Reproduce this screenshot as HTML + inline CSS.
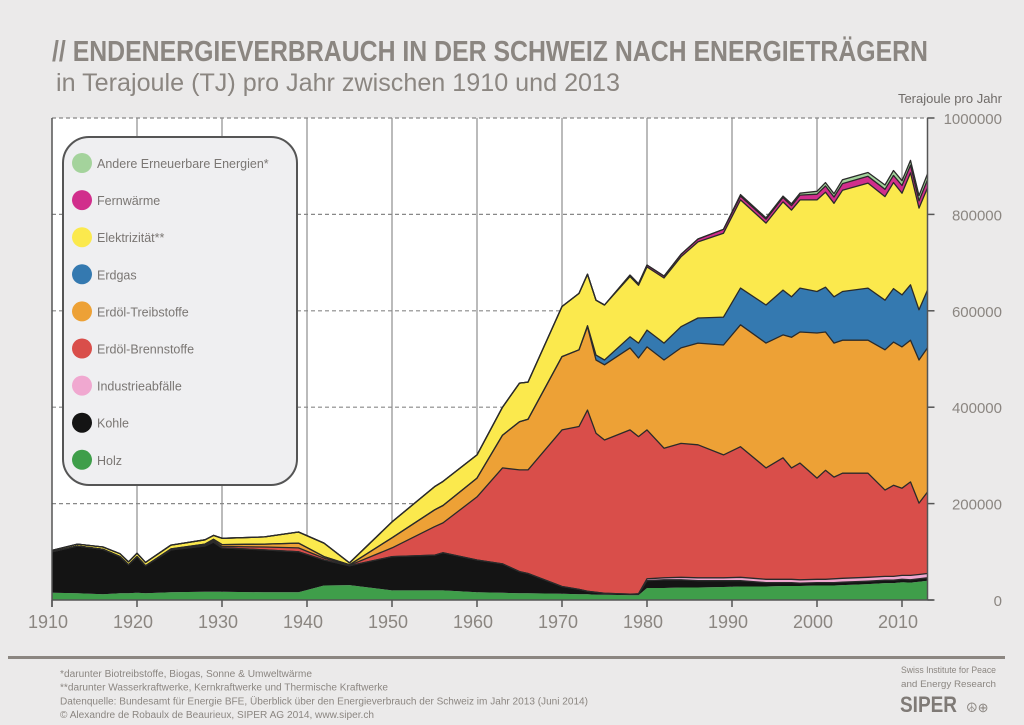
<!DOCTYPE html>
<html><head><meta charset="utf-8">
<style>
body{margin:0;background:#ebeaea;font-family:"Liberation Sans",sans-serif;}
#wrap{position:relative;width:1024px;height:725px;overflow:hidden;background:#ebeaea;}
svg{position:absolute;left:0;top:0;}
</style></head>
<body>
<div id="wrap">
<svg id="chart" width="1024" height="725"></svg>
</div>
<script>
const years=[1910,1913,1916,1918,1919,1920,1921,1924,1928,1929,1930,1935,1939,1942,1945,1950,1955,1956,1960,1963,1965,1966,1970,1972,1973,1974,1975,1978,1979,1980,1982,1984,1986,1989,1991,1994,1996,1997,1998,2000,2001,2002,2003,2006,2008,2009,2010,2011,2012,2013];
// values in 1000 TJ
const holz=[15,14,12,14,14,15,14,16,17,17,17,16,16,30,31,20,20,20,16,15,14,14,13,12,12,11,11,10,10,25,25,26,26,27,28,28,29,29,29,30,30,30,31,33,35,35,37,36,38,40];
const kohle=[85,98,93,76,59,75,57,88,95,103,91,88,84,53,40,70,73,78,67,60,45,41,15,10,6,5,3,2,2,15,17,16,14,13,12,8,7,7,6,6,6,6,6,6,6,6,6,6,6,6];
const industrie=[0,0,0,0,0,0,0,0,0,0,0,0,0,0,0,0,0,0,0,0,0,0,0,0,0,0,0,0,1,4,4,5,6,6,7,7,7,7,7,7,7,8,8,8,8,8,8,9,9,9];
const brenn=[0,0,0,0,0,0,0,1,2,3,3,6,8,4,1,18,59,62,131,199,211,215,325,338,376,330,318,341,326,309,269,278,276,255,271,231,252,231,242,210,226,211,218,216,179,189,181,194,148,169];
const treib=[0,0,0,0,0,0,0,1,2,3,4,6,10,3,1,21,35,36,39,68,100,105,152,159,173,152,156,170,163,172,183,198,211,228,253,259,255,271,272,301,287,278,276,276,291,297,293,294,297,299];
const gas=[0,0,0,0,0,0,0,0,0,0,0,0,0,0,0,0,0,0,0,0,0,0,0,0,2,10,10,23,31,35,35,44,52,58,76,79,93,84,91,86,93,96,101,108,103,111,108,115,104,120];
const elek=[3,4,5,6,6,7,7,8,9,8,13,15,23,28,4,33,48,50,48,58,80,77,104,117,107,114,114,125,120,131,135,145,158,174,183,170,183,180,183,190,197,194,210,218,215,220,211,232,211,212];
const fern=[0,0,0,0,0,0,0,0,0,0,0,0,0,0,0,0,0,0,0,0,0,0,0,0,0,0,0,3,3,4,4,5,6,8,8,8,9,9,10,12,13,13,14,14,15,15,16,16,15,17];
const andere=[0,0,0,0,0,0,0,0,0,0,0,0,0,0,0,0,0,0,0,0,0,0,0,0,0,0,0,0,0,0,0,0,0,0,3,3,3,4,4,6,7,7,8,8,9,10,10,10,11,12];
const yTicks=[0,200000,400000,600000,800000,1000000];
const yTickLabels=["0","200000","400000","600000","800000","1000000"];
const xTicks=[1910,1920,1930,1940,1950,1960,1970,1980,1990,2000,2010];
const seriesNames=["Holz","Kohle","Industrieabfälle","Erdöl-Brennstoffe","Erdöl-Treibstoffe","Erdgas","Elektrizität**","Fernwärme","Andere Erneuerbare Energien*"];

const NS="http://www.w3.org/2000/svg";
const svg=document.getElementById('chart');
const L=52,R=927.5,T=118,B=600;
const x=yr=>L+(yr-1910)*(R-L)/103;
const y=v=>B-v*(B-T)/1000000;
function mk(tag,attrs,parent){const e=document.createElementNS(NS,tag);for(const k in attrs)e.setAttribute(k,attrs[k]);(parent||svg).appendChild(e);return e;}

// title
let t=mk('text',{x:52,y:61,'font-size':29,'font-weight':'bold',fill:'#8b8681',textLength:876,lengthAdjust:'spacingAndGlyphs'});
t.textContent='// ENDENERGIEVERBRAUCH IN DER SCHWEIZ NACH ENERGIETRÄGERN';


t=mk('text',{x:56,y:91,'font-size':25,fill:'#8b8681',textLength:564,lengthAdjust:'spacingAndGlyphs'});
t.textContent='in Terajoule (TJ) pro Jahr zwischen 1910 und 2013';


t=mk('text',{x:1002,y:103,'font-size':13,fill:'#6f6b68','text-anchor':'end'});
t.textContent='Terajoule pro Jahr';



// plot background
let bg=mk('rect',{x:L,y:T,width:R-L,height:B-T,fill:'#ffffff'});


// vertical gridlines
xTicks.slice(1).forEach(yr=>{
  const g=mk('line',{x1:x(yr),x2:x(yr),y1:T,y2:B,stroke:'#777',"stroke-width":1});
  
  
});
// horizontal dashed
yTicks.slice(1).forEach(v=>{
  const g=mk('line',{x1:L,x2:R,y1:y(v),y2:y(v),stroke:'#888',"stroke-width":1.2,"stroke-dasharray":"4,3"});
  
  
});

// stacked areas
const layers=[holz,kohle,industrie,brenn,treib,gas,elek,fern,andere];
const colors=['#3f9e4a','#141414','#f0a8d0','#d94e4a','#eda136','#3479b0','#fbe94d','#d12e8c','#a4d39c'];
const layerNames=['holz-area','kohle-area','industrieabfaelle-area','erdoel-brennstoffe-area','erdoel-treibstoffe-area','erdgas-area','elektrizitaet-area','fernwaerme-area','andere-erneuerbare-area'];
let base=years.map(()=>0);
layers.forEach((arr,i)=>{
  const top=base.map((b,j)=>b+arr[j]*1000);
  let d='M'+years.map((yr,j)=>x(yr).toFixed(1)+','+y(top[j]).toFixed(1)).join('L');
  for(let j=years.length-1;j>=0;j--)d+='L'+x(years[j]).toFixed(1)+','+y(base[j]).toFixed(1);
  d+='Z';
  const p=mk('path',{d:d,fill:colors[i],stroke:'none'});
  
  
  base=top;
  layers[i]._top=top;
});
layers.forEach((arr,i)=>{
  if(i===0)return;
  const top=arr._top;
  const l=mk('polyline',{points:years.map((yr,j)=>x(yr).toFixed(1)+','+y(top[j]).toFixed(1)).join(' '),fill:'none',stroke:'#2a2a2a','stroke-width':1.3,'stroke-linejoin':'round'});
  
  
});

// axes
let ax=mk('line',{x1:L,x2:R+6,y1:B,y2:B,stroke:'#555','stroke-width':1.5});


ax=mk('line',{x1:L,x2:L,y1:T,y2:B+7,stroke:'#555','stroke-width':1.5});


ax=mk('line',{x1:R,x2:R,y1:T,y2:B,stroke:'#555','stroke-width':1.5});


yTicks.forEach((v,i)=>{
  const tk=mk('line',{x1:R,x2:R+7,y1:y(v),y2:y(v),stroke:'#555','stroke-width':1.5});
  
  
  const lb=mk('text',{x:1002,y:y(v)+6,'font-size':15,fill:'#8b8681','text-anchor':'end'});
  lb.textContent=yTickLabels[i];
  
  
});
xTicks.forEach(yr=>{
  const tk=mk('line',{x1:x(yr),x2:x(yr),y1:B,y2:B+7,stroke:'#555','stroke-width':1.5});
  
  
  const lb=mk('text',{x:x(yr)-4,y:B+28,'font-size':18,fill:'#8b8681','text-anchor':'middle',textLength:40,lengthAdjust:'spacingAndGlyphs'});
  lb.textContent=yr;
  
  
});

// legend
const lg=mk('g',{});


const lb=mk('rect',{x:63,y:137,width:234,height:348,rx:26,fill:'#efeff1',stroke:'#555','stroke-width':2},lg);


for(let k=0;k<9;k++){
  const i=8-k;
  const cy=163+k*37.1;
  const g=mk('g',{},lg);
  
  
  mk('circle',{cx:82,cy:cy,r:10,fill:colors[i]},g);
  const tx=mk('text',{x:97,y:cy+5,'font-size':12.5,fill:'#7a7673'},g);
  tx.textContent=seriesNames[i];
}

// footer
let fl=mk('rect',{x:8,y:656,width:997,height:3,fill:'#8b8681'});


const notes=['*darunter Biotreibstoffe, Biogas, Sonne & Umweltwärme','**darunter Wasserkraftwerke, Kernkraftwerke und Thermische Kraftwerke','Datenquelle: Bundesamt für Energie BFE, Überblick über den Energieverbrauch der Schweiz im Jahr 2013 (Juni 2014)','© Alexandre de Robaulx de Beaurieux, SIPER AG 2014, www.siper.ch'];
const noteW=[252,328,528,314];
notes.forEach((n,i)=>{
  const tx=mk('text',{x:60,y:677+i*13.7,'font-size':10,fill:'#8b8681',textLength:noteW[i],lengthAdjust:'spacingAndGlyphs'});
  tx.textContent=n;
  
  
});
[['Swiss Institute for Peace',673],['and Energy Research',687]].forEach(a=>{
  const tx=mk('text',{x:901,y:a[1],'font-size':9.5,fill:'#8b8681',textLength:95,lengthAdjust:'spacingAndGlyphs'});
  tx.textContent=a[0];
  
  
});
let sp=mk('text',{x:900,y:712,'font-size':22,'font-weight':'bold',fill:'#7f7a76',textLength:57,lengthAdjust:'spacingAndGlyphs'});
sp.textContent='SIPER';


sp=mk('text',{x:966,y:712,'font-size':13,fill:'#8b8681'});
sp.textContent='☮⊕';


</script>
</body></html>
